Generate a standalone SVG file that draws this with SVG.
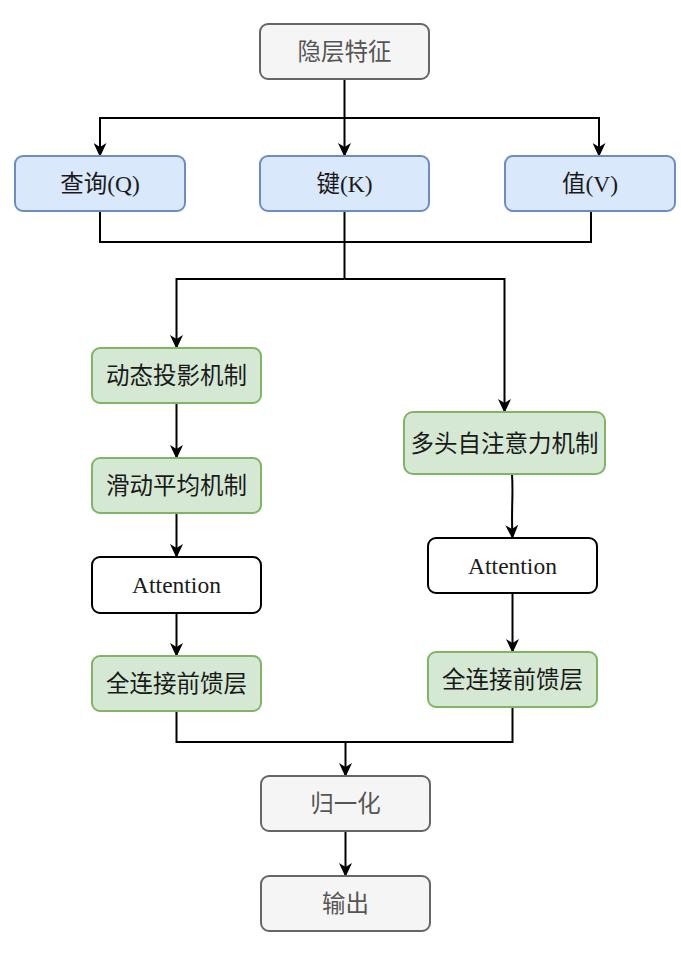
<svg xmlns="http://www.w3.org/2000/svg" width="681" height="958" viewBox="0 0 681 958">
<style>
rect{stroke-width:2}
.gray{fill:#f5f5f5;stroke:#666666}
.blue{fill:#dae8fc;stroke:#6c8ebf}
.green{fill:#d5e8d4;stroke:#82b366}
.white{fill:#ffffff;stroke:#000000}
text{font-family:"Liberation Serif","Noto Sans CJK SC",serif;font-size:23.5px;text-anchor:middle;fill:#1a1a1a}
.gt{fill:#555555}
.c{fill:none;stroke:#000000;stroke-width:2}
</style>
<defs>
<marker id="arr" viewBox="0 0 14 13" refX="13" refY="6.5" markerWidth="14" markerHeight="13" markerUnits="userSpaceOnUse" orient="auto">
<path d="M0,0 L14,6.5 L0,13 L4,6.5 Z" fill="#000000"/>
</marker>
</defs>
<g id="connectors">
<path class="c" d="M344.5,79 V156" marker-end="url(#arr)"/>
<path class="c" d="M344.5,118 H100 V156" marker-end="url(#arr)"/>
<path class="c" d="M344.5,118 H599 V156" marker-end="url(#arr)"/>
<path class="c" d="M100,211 V242 H591 V211"/>
<path class="c" d="M344.5,211 V279"/>
<path class="c" d="M344.5,279 H176.5 V348" marker-end="url(#arr)"/>
<path class="c" d="M344.5,279 H504.5 V412" marker-end="url(#arr)"/>
<path class="c" d="M176.5,403 V458" marker-end="url(#arr)"/>
<path class="c" d="M176.5,513 V557" marker-end="url(#arr)"/>
<path class="c" d="M176.5,613 V656" marker-end="url(#arr)"/>
<path class="c" d="M512,474 C513.5,495 511,510 512.5,538" marker-end="url(#arr)"/>
<path class="c" d="M512.5,593 V652" marker-end="url(#arr)"/>
<path class="c" d="M176.5,711 V742 H512.5 V707"/>
<path class="c" d="M345.5,742 V776" marker-end="url(#arr)"/>
<path class="c" d="M345.5,831 V876" marker-end="url(#arr)"/>
</g>
<g id="hidden"><rect class="gray" x="260" y="24" width="169" height="55" rx="8"/><text class="gt" x="344.5" y="60">隐层特征</text></g>
<g id="query"><rect class="blue" x="15" y="156" width="170" height="55" rx="8"/><text x="100" y="192">查询(Q)</text></g>
<g id="key"><rect class="blue" x="260" y="156" width="169" height="55" rx="8"/><text x="344.5" y="192">键(K)</text></g>
<g id="value"><rect class="blue" x="505" y="156" width="170" height="55" rx="8"/><text x="590" y="192">值(V)</text></g>
<g id="dynproj"><rect class="green" x="92" y="348" width="169" height="55" rx="8"/><text x="176.5" y="384">动态投影机制</text></g>
<g id="movavg"><rect class="green" x="92" y="458" width="169" height="55" rx="8"/><text x="176.5" y="494">滑动平均机制</text></g>
<g id="attn-left"><rect class="white" x="92" y="557" width="169" height="56" rx="8"/><text x="176.5" y="593">Attention</text></g>
<g id="ffn-left"><rect class="green" x="92" y="656" width="169" height="55" rx="8"/><text x="176.5" y="692">全连接前馈层</text></g>
<g id="mhsa"><rect class="green" x="404" y="412" width="201" height="62" rx="9"/><text x="504.5" y="451.5">多头自注意力机制</text></g>
<g id="attn-right"><rect class="white" x="428" y="538" width="169" height="55" rx="8"/><text x="512.5" y="574">Attention</text></g>
<g id="ffn-right"><rect class="green" x="428" y="652" width="169" height="55" rx="8"/><text x="512.5" y="688">全连接前馈层</text></g>
<g id="norm"><rect class="gray" x="261" y="776" width="169" height="55" rx="8"/><text class="gt" x="345.5" y="812">归一化</text></g>
<g id="output"><rect class="gray" x="261" y="876" width="169" height="55" rx="8"/><text class="gt" x="345.5" y="912">输出</text></g>
</svg>
